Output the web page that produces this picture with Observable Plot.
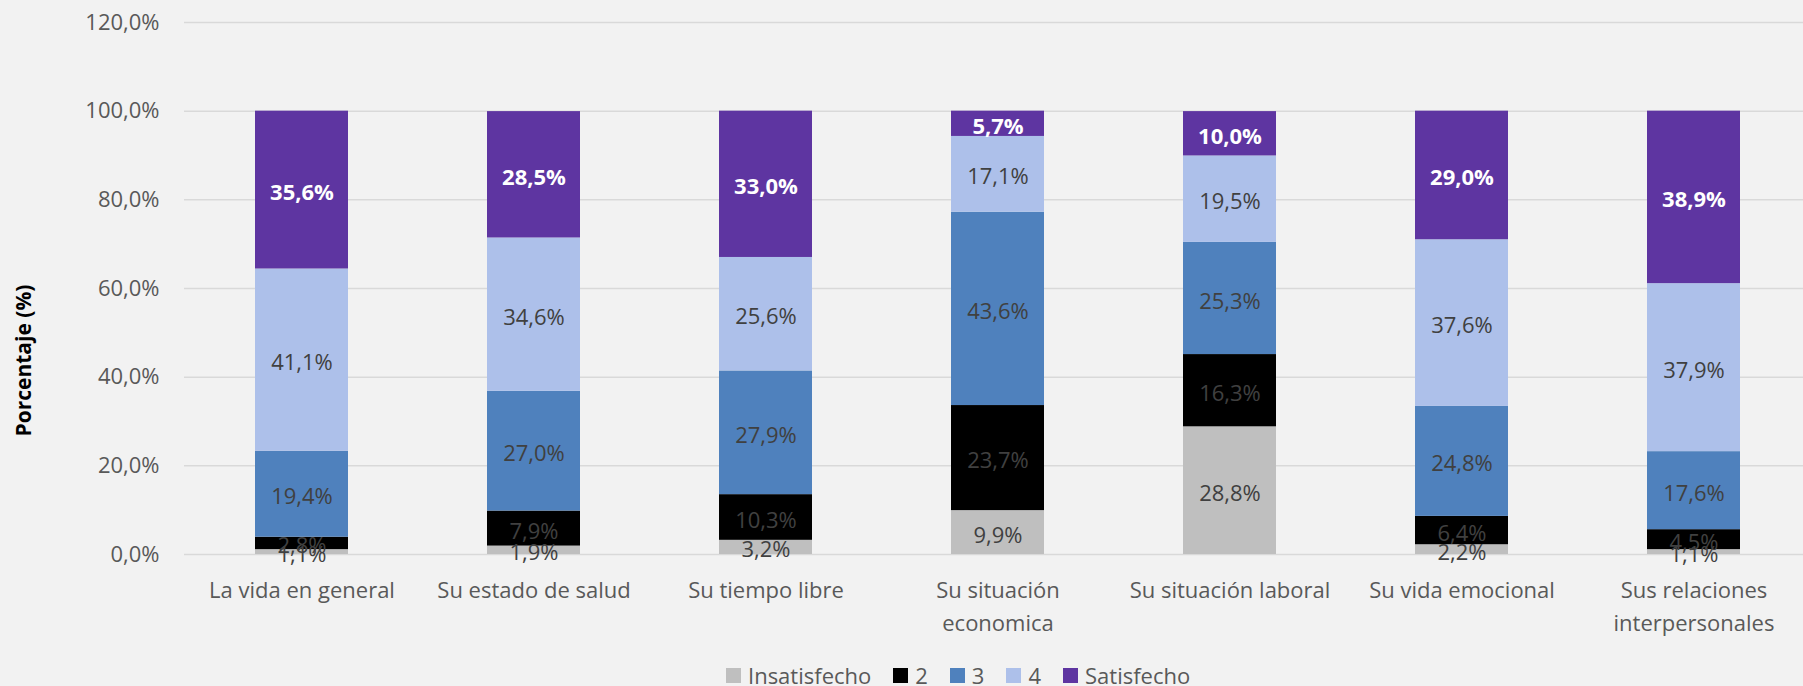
<!DOCTYPE html>
<html>
<head>
<meta charset="utf-8">
<script src="https://cdn.jsdelivr.net/npm/d3@7"></script>
<script src="https://cdn.jsdelivr.net/npm/@observablehq/plot@0.6"></script>
<style>
  html, body { margin: 0; padding: 0; background: #f2f2f2; overflow: hidden; }
  #chart svg { display: block; }
  #legend { padding-left: 726px; padding-top: 10px; }
  #legend div { margin: 0 !important; min-height: 0 !important; height: 30px; align-items: center; }
  #legend span { margin-right: 22px !important; }
  #legend span > svg { margin-right: 7px !important; }
</style>
</head>
<body>
<div id="chart"></div>
<div id="legend"></div>
<script>
const categories = [
  "La vida en general",
  "Su estado de salud",
  "Su tiempo libre",
  "Su situación economica",
  "Su situación laboral",
  "Su vida emocional",
  "Sus relaciones interpersonales"
];
const tickLabels = [
  "La vida en general",
  "Su estado de salud",
  "Su tiempo libre",
  "Su situación\neconomica",
  "Su situación laboral",
  "Su vida emocional",
  "Sus relaciones\ninterpersonales"
];
const series = ["Insatisfecho", "2", "3", "4", "Satisfecho"];
const colors = ["#bfbfbf", "#000000", "#4f81bd", "#adc0ea", "#5e35a1"];

const insatisfecho = [1.1, 1.9, 3.2, 9.9, 28.8, 2.2, 1.1];
const s2 = [2.8, 7.9, 10.3, 23.7, 16.3, 6.4, 4.5];
const s3 = [19.4, 27.0, 27.9, 43.6, 25.3, 24.8, 17.6];
const s4 = [41.1, 34.6, 25.6, 17.1, 19.5, 37.6, 37.9];
const satisfecho = [35.6, 28.5, 33.0, 5.7, 10.0, 29.0, 38.9];

const yTicks = [0, 20, 40, 60, 80, 100, 120];

const seriesValues = [insatisfecho, s2, s3, s4, satisfecho];
const data = [];
categories.forEach((c, i) => {
  series.forEach((s, j) => data.push({cat: c, series: s, value: seriesValues[j][i]}));
});

const pct = v => v.toFixed(1).replace(".", ",") + "%";
const FONT = "'Open Sans', 'Noto Sans', sans-serif";

const chart = Plot.plot({
  width: 1803,
  height: 650,
  marginLeft: 184,
  marginRight: 0,
  marginTop: 22,
  marginBottom: 96,
  style: {background: "#f2f2f2", fontFamily: FONT, fontSize: "22px", overflow: "hidden"},
  x: {type: "band", domain: categories, range: [184, 1810], paddingInner: 0.6, paddingOuter: 0.3, label: null},
  y: {domain: [0, 120], label: null},
  color: {domain: series, range: colors},
  marks: [
    Plot.gridY(yTicks, {stroke: "#d9d9d9", strokeWidth: 1.5, strokeOpacity: 1}),
    Plot.barY(data, {x: "cat", y: "value", fill: "series", z: "series"}),
    Plot.text(data, Plot.stackY({
      x: "cat", y: "value", z: "series",
      text: d => d.series === "Satisfecho" ? "" : pct(d.value),
      fill: "#404040", fontSize: 22, dy: 3
    })),
    Plot.text(data, Plot.stackY({
      x: "cat", y: "value", z: "series",
      text: d => d.series === "Satisfecho" ? pct(d.value) : "",
      fill: "white", fontSize: 22, fontWeight: "bold", dy: 3
    })),
    Plot.axisY({ticks: yTicks, tickSize: 0, tickPadding: 25, tickFormat: pct, fontSize: 22, fill: "#595959", label: null}),
    Plot.axisX({tickSize: 0, tickPadding: 20, tickFormat: d => tickLabels[categories.indexOf(d)], fontSize: 22, fill: "#595959", lineHeight: 1.5, label: null}),
    Plot.text(["Porcentaje (%)"], {frameAnchor: "left", rotate: -90, dx: -160, dy: 148, fontWeight: "bold", fontSize: 21, fill: "black"})
  ]
});
document.getElementById("chart").appendChild(chart);

const legend = Plot.legend({
  color: {domain: series, range: colors},
  legend: "swatches",
  swatchSize: 15,
  style: {fontFamily: FONT, fontSize: "22px", color: "#595959"}
});
document.getElementById("legend").appendChild(legend);
</script>
</body>
</html>
